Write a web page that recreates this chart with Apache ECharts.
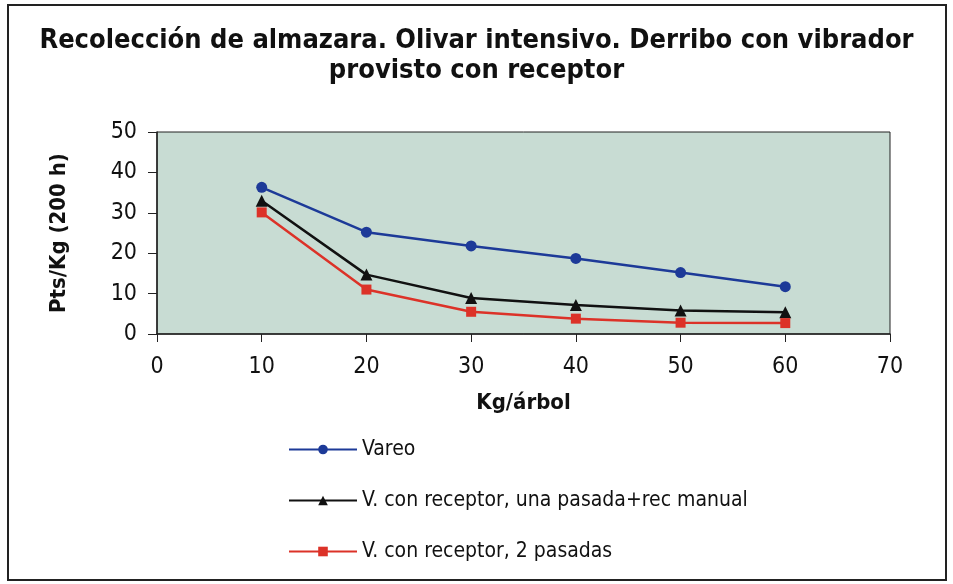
<!DOCTYPE html>
<html>
<head>
<meta charset="utf-8">
<script src="https://cdn.jsdelivr.net/npm/echarts@6/dist/echarts.min.js"></script>
<style>
html,body{margin:0;padding:0;background:#fff;}
#main{width:953px;height:584px;}
</style>
</head>
<body>
<div id="main"></div>
<script>
var xValues = [10, 20, 30, 40, 50, 60];
var vareo = [36.3, 25.2, 21.8, 18.7, 15.2, 11.7];
var unaPasada = [33, 14.7, 8.9, 7.2, 5.8, 5.4];
var dosPasadas = [30.1, 11, 5.5, 3.8, 2.8, 2.7];
var seriesNames = ['Vareo', 'V. con receptor, una pasada+rec manual', 'V. con receptor, 2 pasadas'];

function pairs(arr){
  var out = [];
  for (var i = 0; i < arr.length; i++) out.push([xValues[i], arr[i]]);
  return out;
}

var font = "'DejaVu Sans Condensed', 'Liberation Sans Narrow', sans-serif";
var myChart = echarts.init(document.getElementById('main'));
var option = {
  animation: false,
  backgroundColor: '#fff',
  title: {
    text: 'Recolección de almazara. Olivar intensivo. Derribo con vibrador\nprovisto con receptor',
    left: 'center',
    top: 21,
    textStyle: {fontFamily: font, fontWeight: 'bold', fontSize: 27, color: '#111', lineHeight: 30}
  },
  graphic: [{
    type: 'rect',
    shape: {x: 8, y: 5, width: 938, height: 575},
    style: {fill: 'none', stroke: '#222', lineWidth: 2},
    silent: true
  }],
  legend: {
    orient: 'vertical',
    left: 283,
    top: 434,
    itemWidth: 68,
    itemHeight: 12,
    itemGap: 30,
    textStyle: {fontFamily: font, fontSize: 21, color: '#111'},
    data: seriesNames
  },
  grid: {left: 157, right: 63, top: 132, bottom: 250, show: true, backgroundColor: '#c8dcd3', borderColor: '#222', borderWidth: 1},
  xAxis: {
    type: 'value', min: 0, max: 70, interval: 10,
    name: 'Kg/árbol', nameLocation: 'middle', nameGap: 58,
    nameTextStyle: {fontFamily: font, fontWeight: 'bold', fontSize: 22, color: '#111'},
    axisLine: {lineStyle: {color: '#222', width: 1.5}},
    axisTick: {show: true, length: 8, lineStyle: {color: '#222'}},
    axisLabel: {fontFamily: font, fontSize: 23, color: '#111', margin: 22},
    splitLine: {show: false}
  },
  yAxis: {
    type: 'value', min: 0, max: 50, interval: 10,
    name: 'Pts/Kg (200 h)', nameLocation: 'middle', nameGap: 87, nameRotate: 90,
    nameTextStyle: {fontFamily: font, fontWeight: 'bold', fontSize: 22, color: '#111'},
    axisLine: {show: true, lineStyle: {color: '#222', width: 1.5}},
    axisTick: {show: true, length: 9, lineStyle: {color: '#222'}},
    axisLabel: {fontFamily: font, fontSize: 23, color: '#111', margin: 20},
    splitLine: {show: false}
  },
  series: [
    {name: seriesNames[0], type: 'line', data: pairs(vareo), symbol: 'circle', symbolSize: 11,
     itemStyle: {color: '#1d3a98'}, lineStyle: {color: '#1d3a98', width: 2.5}},
    {name: seriesNames[1], type: 'line', data: pairs(unaPasada), symbol: 'triangle', symbolSize: 12,
     itemStyle: {color: '#111'}, lineStyle: {color: '#111', width: 2.5}},
    {name: seriesNames[2], type: 'line', data: pairs(dosPasadas), symbol: 'rect', symbolSize: 10,
     itemStyle: {color: '#dc3228'}, lineStyle: {color: '#dc3228', width: 2.5}}
  ]
};
myChart.setOption(option);
</script>
</body>
</html>
